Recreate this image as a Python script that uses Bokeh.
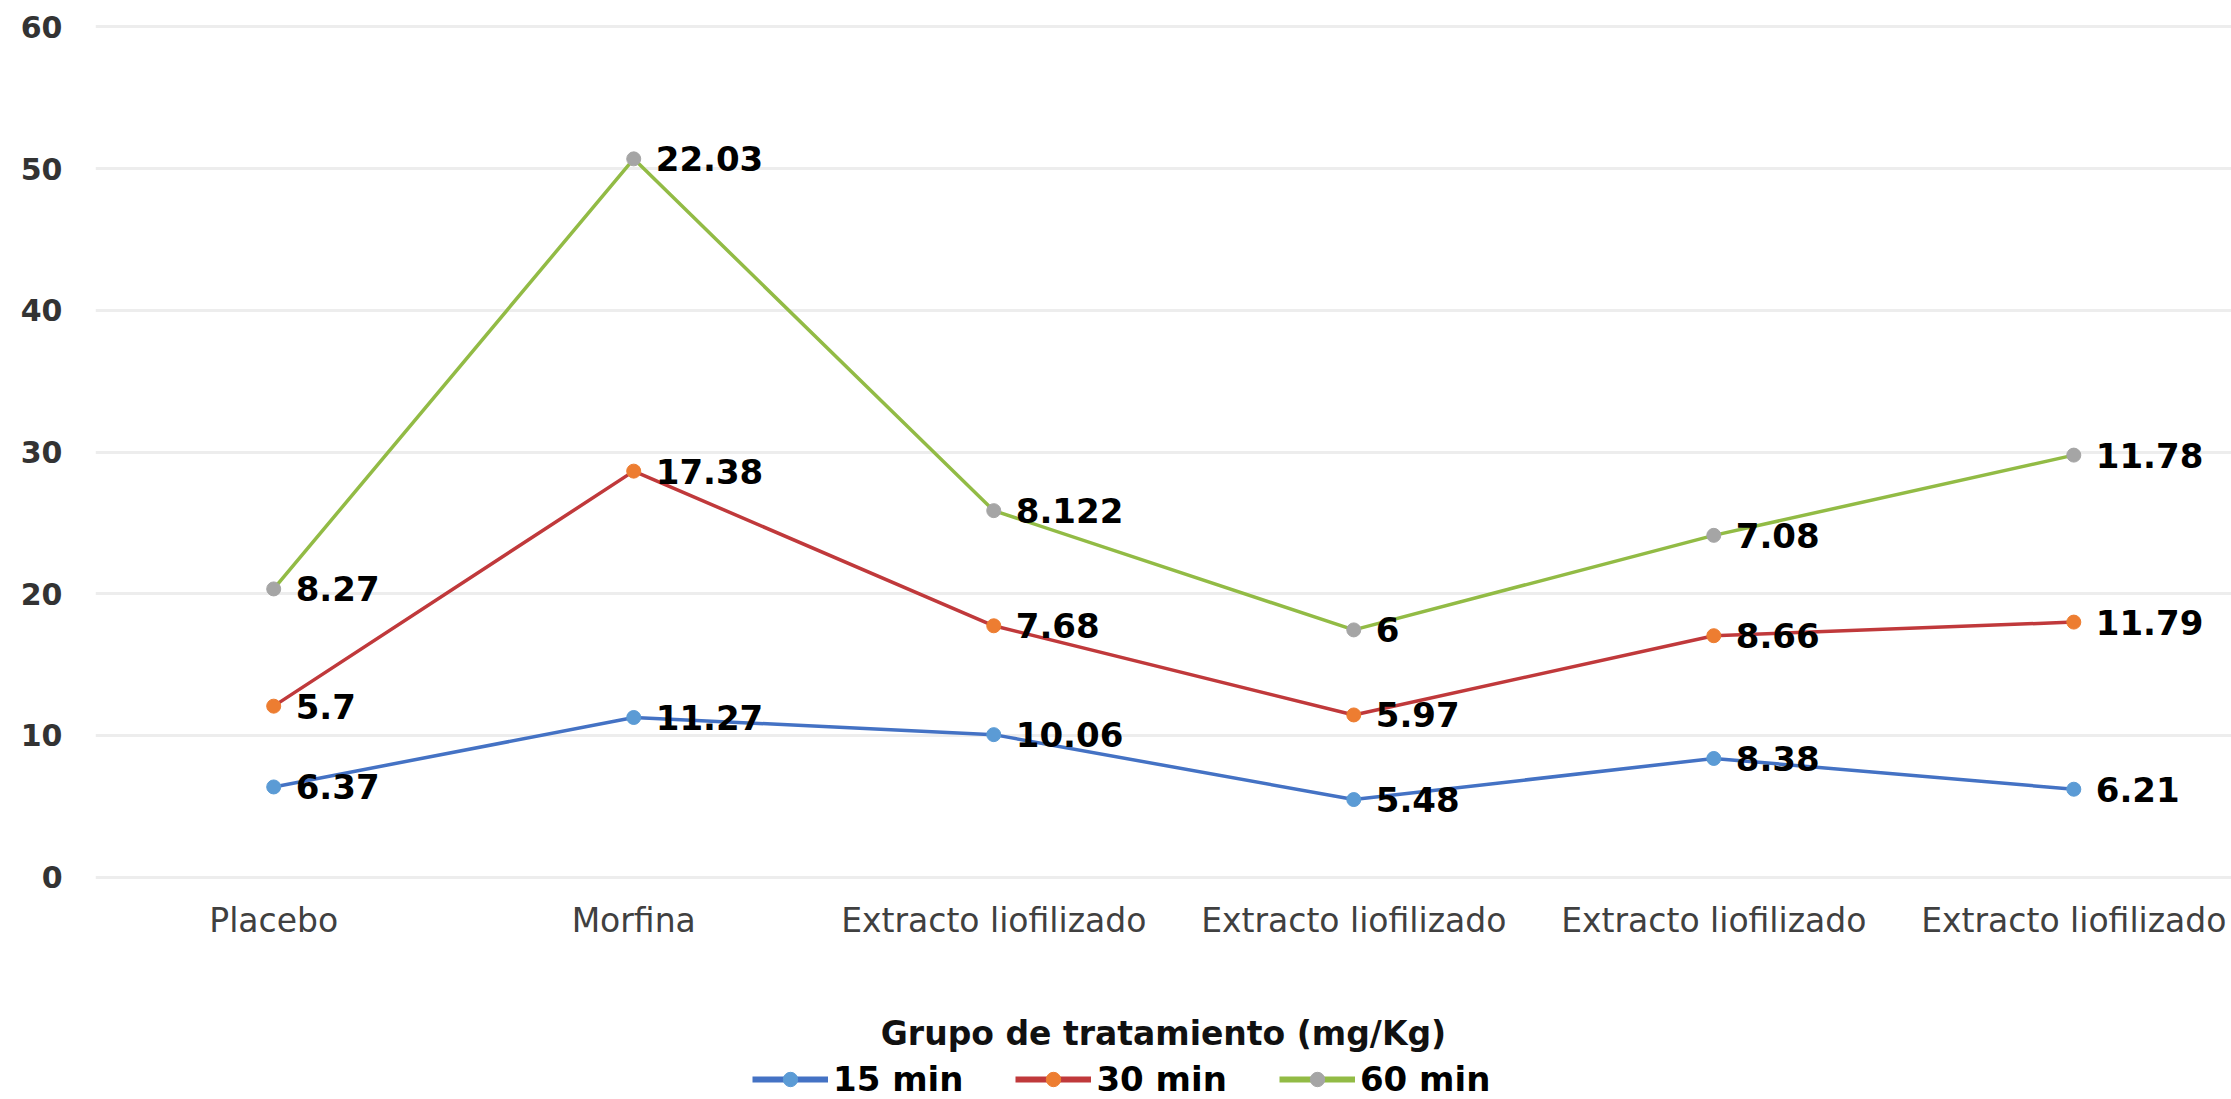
import numpy as np
from bokeh.plotting import figure
from bokeh.layouts import column
from bokeh.models import Range1d, FixedTicker, Legend, LegendItem, ColumnDataSource, LabelSet
from bokeh.core.properties import value
from bokeh.embed import file_html
from bokeh.resources import INLINE

categories = ["Placebo", "Morfina", "Extracto liofilizado", "Extracto liofilizado",
              "Extracto liofilizado", "Extracto liofilizado"]
min15 = [6.37, 11.27, 10.06, 5.48, 8.38, 6.21]
min30 = [5.7, 17.38, 7.68, 5.97, 8.66, 11.79]
min60 = [8.27, 22.03, 8.122, 6, 7.08, 11.78]
series_names = ["15 min", "30 min", "60 min"]
y_ticks = [0, 10, 20, 30, 40, 50, 60]

line_colors = ["#4472C4", "#C0393B", "#92BB45"]
marker_colors = ["#5B9BD5", "#ED7D31", "#A5A5A5"]

xs = [i + 0.5 for i in range(len(categories))]

p = figure(width=2231, height=1055, output_backend="svg", toolbar_location=None,
           x_range=Range1d(0.005, 5.938), y_range=Range1d(-0.3, 60.3),
           min_border_left=95, min_border_right=0, min_border_top=22, min_border_bottom=171)
p.outline_line_color = None
p.background_fill_color = "white"

# axes
p.xaxis.ticker = FixedTicker(ticks=xs)
p.xaxis.major_label_overrides = {x: c for x, c in zip(xs, categories)}
p.xaxis.axis_line_color = None
p.xaxis.major_tick_line_color = None
p.xaxis.minor_tick_line_color = None
p.xaxis.major_tick_out = 0
p.xaxis.major_label_standoff = 19
p.xaxis.major_label_text_font = "DejaVu Sans"
p.xaxis.major_label_text_font_size = "33px"
p.xaxis.major_label_text_color = "#404040"
p.xaxis.axis_label = "Grupo de tratamiento (mg/Kg)"
p.xaxis.axis_label_text_font = "DejaVu Sans"
p.xaxis.axis_label_text_font_style = "bold"
p.xaxis.axis_label_text_font_size = "33px"
p.xaxis.axis_label_text_color = "#111111"
p.xaxis.axis_label_standoff = 71

p.yaxis.ticker = FixedTicker(ticks=y_ticks)
p.yaxis.axis_line_color = None
p.yaxis.major_tick_line_color = None
p.yaxis.minor_tick_line_color = None
p.yaxis.major_tick_out = 0
p.yaxis.major_label_standoff = 33
p.yaxis.major_label_text_font = "DejaVu Sans"
p.yaxis.major_label_text_font_style = "bold"
p.yaxis.major_label_text_font_size = "30px"
p.yaxis.major_label_text_color = "#333333"

p.xgrid.grid_line_color = None
p.ygrid.ticker = FixedTicker(ticks=y_ticks)
p.ygrid.grid_line_color = "#EDEDED"
p.ygrid.grid_line_width = 3

# legend figure (separate strip below the chart)
leg = figure(width=2231, height=44, output_backend="svg", toolbar_location=None,
             x_range=Range1d(0, 1), y_range=Range1d(1000, 1001),
             x_axis_type=None, y_axis_type=None,
             min_border_left=0, min_border_right=0, min_border_top=0, min_border_bottom=0)
leg.outline_line_color = None
leg.grid.visible = False

# stacked series
stack = np.zeros(len(categories))
items = []
for name, vals, lc, mc in zip(series_names, [min15, min30, min60], line_colors, marker_colors):
    stack = stack + np.array(vals, dtype=float)
    src = ColumnDataSource(dict(x=xs, y=list(stack), lab=[f"{v:g}" for v in vals]))
    p.line("x", "y", source=src, line_color=lc, line_width=3.5)
    p.scatter("x", "y", source=src, marker="circle", size=14, fill_color=mc, line_color=mc)
    labels = LabelSet(x="x", y="y", text="lab", source=src, x_offset=22, y_offset=0,
                      text_align="left", text_baseline="middle",
                      text_font=value("DejaVu Sans"), text_font_style="bold",
                      text_font_size="34px", text_color="#000000")
    p.add_layout(labels)
    l_line = leg.line("x", "y", source=src, line_color=lc, line_width=6)
    l_mark = leg.scatter("x", "y", source=src, marker="circle", size=14,
                         fill_color=mc, line_color=mc)
    items.append(LegendItem(label=name, renderers=[l_line, l_mark]))

legend = Legend(items=items, orientation="horizontal", location=(657, 0),
                glyph_width=76, glyph_height=36, label_standoff=5, spacing=52,
                padding=0, margin=0, border_line_alpha=0, background_fill_alpha=0,
                label_text_font="DejaVu Sans", label_text_font_style="bold",
                label_text_font_size="34px", label_text_color="#000000")
leg.add_layout(legend, "center")

layout = column(p, leg, spacing=0)
open("out.html", "w").write(file_html(layout, INLINE))
